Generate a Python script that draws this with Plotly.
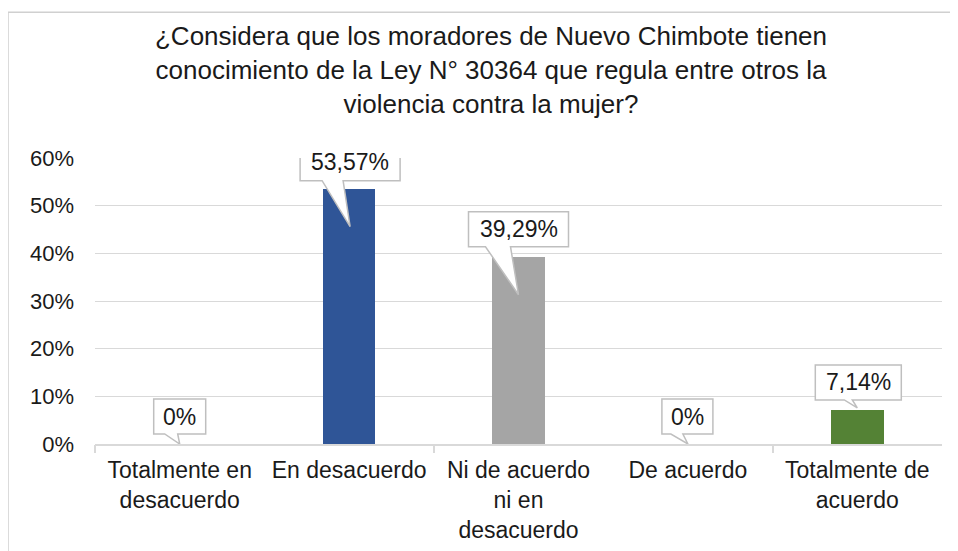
import plotly.graph_objects as go

# ---- data ----
categories = [
    "Totalmente en<br>desacuerdo",
    "En desacuerdo",
    "Ni de acuerdo<br>ni en<br>desacuerdo",
    "De acuerdo",
    "Totalmente de<br>acuerdo",
]
values = [0.0, 0.5357, 0.3929, 0.0, 0.0714]
bar_colors = ["#4472C4", "#2F5597", "#A5A5A5", "#FFC000", "#548235"]
ytick_vals = [0, 0.1, 0.2, 0.3, 0.4, 0.5, 0.6]
ytick_text = ["0%", "10%", "20%", "30%", "40%", "50%", "60%"]
title_text = ("¿Considera que los moradores de Nuevo Chimbote tienen<br>"
              "conocimiento de la Ley N° 30364 que regula entre otros la<br>"
              "violencia contra la mujer?")


def pct_label(v):
    if v == 0:
        return "0%"
    return ("%.2f" % (v * 100)).replace(".", ",") + "%"


labels = [pct_label(v) for v in values]

# ---- callout styling (pixel offsets relative to each bar's value point, y up) ----
# (box_x0, box_x1, box_y0, box_y1, wedge_x0, wedge_x1, tip_x, tip_y)
callout_geom = [
    (-26, 26, 10, 45, -15, -2, 0, 0),
    (-49, 51, 8, 45, -27, -6, 1, -38),
    (-50, 50, 10, 45, -33, -8, 0, -38),
    (-26, 25, 10, 45, -17, -5, 0, 0),
    (-42, 44, 10, 45, -13, -5, 0, 2),
]

FONT = "Liberation Sans, Arial, sans-serif"
TXT = "#1a1a1a"
GRID = "#d9d9d9"

fig = go.Figure()
fig.add_trace(go.Bar(
    x=categories, y=values,
    marker=dict(color=bar_colors, line=dict(width=0)),
    width=0.31, hoverinfo="skip", showlegend=False,
))

shapes = []
annotations = []
for i, (v, lab, g) in enumerate(zip(values, labels, callout_geom)):
    bx0, bx1, by0, by1, wx0, wx1, tx, ty = g
    path = (f"M {bx0},{by1} L {bx1},{by1} L {bx1},{by0} L {wx1},{by0} "
            f"L {tx},{ty} L {wx0},{by0} L {bx0},{by0} Z")
    shapes.append(dict(
        type="path", xref="x", yref="y",
        xsizemode="pixel", ysizemode="pixel",
        xanchor=i, yanchor=v, path=path,
        fillcolor="white", line=dict(color="#bfbfbf", width=1.5),
        layer="above",
    ))
    annotations.append(dict(
        x=i, y=v, xref="x", yref="y", text=lab, showarrow=False,
        xshift=(bx0 + bx1) / 2, yshift=(by0 + by1) / 2,
        font=dict(family=FONT, size=23, color=TXT),
        xanchor="center", yanchor="middle",
    ))

# chart-area border
shapes.append(dict(
    type="rect", xref="paper", yref="paper",
    x0=-0.1027, x1=1.05, y0=-0.4, y1=1.51,
    line=dict(color="#d0d0d0", width=1.5), fillcolor="rgba(0,0,0,0)",
    layer="below",
))

fig.update_layout(
    width=958, height=551,
    margin=dict(l=87, r=24, t=150, b=115),
    paper_bgcolor="white", plot_bgcolor="white",
    title=dict(
        text=title_text, x=483 / 958, xref="container", xanchor="center",
        y=1 - 37 / 551, yref="container", yanchor="top",
        font=dict(family=FONT, size=26, color=TXT),
    ),
    xaxis=dict(
        type="category", range=[-0.5, 4.5],
        showline=True, linecolor=GRID, linewidth=1.5,
        showgrid=False, ticks="", ticklabelstandoff=5,
        tickfont=dict(family=FONT, size=23, color=TXT),
        fixedrange=True,
    ),
    xaxis2=dict(
        overlaying="x", range=[-0.5, 4.5], showgrid=False,
        showticklabels=False, ticks="outside", ticklen=8, tickcolor=GRID,
        tickwidth=1.5, tickvals=[-0.5, 1.5, 3.5], zeroline=False,
        showline=False, fixedrange=True,
    ),
    yaxis=dict(
        range=[0, 0.6], tickvals=ytick_vals, ticktext=ytick_text,
        showgrid=True, gridcolor=GRID, gridwidth=1,
        zeroline=False, showline=False, ticks="",
        ticklabelstandoff=20,
        tickfont=dict(family=FONT, size=22, color=TXT),
        fixedrange=True,
    ),
    shapes=shapes, annotations=annotations,
    bargap=0, showlegend=False,
)
# invisible trace on xaxis2 so its ticks are drawn
fig.add_trace(go.Scatter(x=[-0.5, 4.5], y=[0, 0], xaxis="x2", mode="markers",
                         marker=dict(opacity=0), hoverinfo="skip", showlegend=False))

fig.write_html("out.html")
